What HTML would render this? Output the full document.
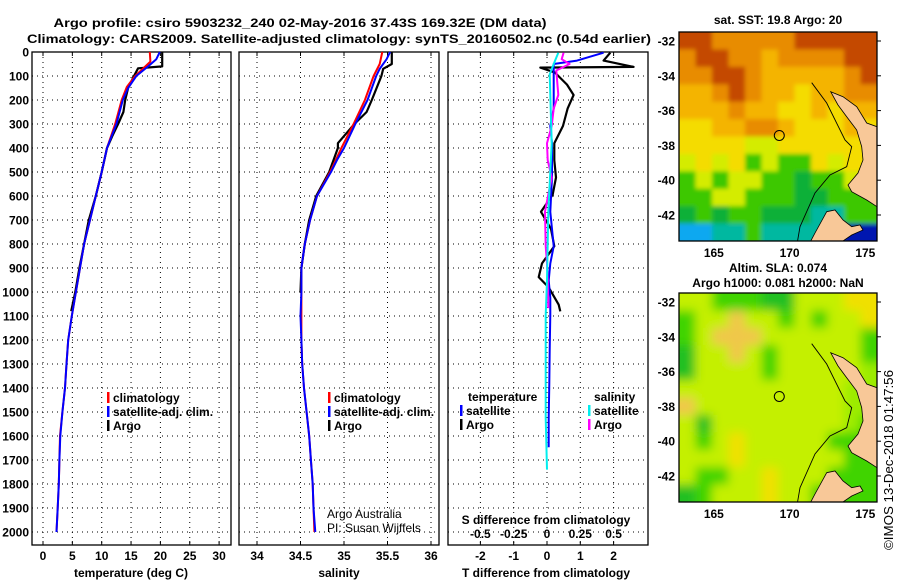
<!DOCTYPE html>
<html><head><meta charset="utf-8"><style>
html,body{margin:0;padding:0;background:#fff}
svg{display:block;font-family:"Liberation Sans",sans-serif}
.t{font-weight:bold;font-size:12px}
</style></head><body>
<svg id="s" width="900" height="580" viewBox="0 0 900 580">
<text x="300" y="27" text-anchor="middle" class="t" font-size="13" textLength="493" lengthAdjust="spacingAndGlyphs">Argo profile: csiro 5903232_240 02-May-2016 37.43S 169.32E (DM data)</text>
<text x="339" y="43" text-anchor="middle" class="t" font-size="13" textLength="624" lengthAdjust="spacingAndGlyphs">Climatology: CARS2009. Satellite-adjusted climatology: synTS_20160502.nc (0.54d earlier)</text>
<g id="g"></g>
</svg>
<script>
// ---------- data ----------
const depthTicks=[0,100,200,300,400,500,600,700,800,900,1000,1100,1200,1300,1400,1500,1600,1700,1800,1900,2000];
const tTicks=[0,5,10,15,20,25,30];
const sTicks=[34,34.5,35,35.5,36];
const dTTicks=[-2,-1,0,1,2];
const dSTicks=[-0.5,-0.25,0,0.25,0.5];
const tClimDepth=[0,40,100,145,200,300,400,500,600,700,800,900,1000,1100,1200,1300,1400,1500,1600,1700,1800,1900,2000];
const tClim=[18.2,18.3,15.7,14.3,13.4,12.3,10.9,10.0,9.0,8.0,7.0,6.3,5.6,4.9,4.3,4.0,3.75,3.3,2.9,2.8,2.7,2.5,2.3];
const tSatDepth=[0,30,60,100,150,200,300,400,500,600,700,800,900,1000,1100,1200,1300,1400,1500,1600,1700,1800,1900,2000];
const tSat=[19.9,19.3,17.9,15.9,14.5,13.6,12.5,10.9,10.0,9.0,8.0,7.0,6.3,5.6,4.9,4.3,4.0,3.75,3.3,2.95,2.8,2.7,2.5,2.3];
const tArgoDepth=[0,60,68,100,150,200,250,300,350,400,500,600,700,800,900,1000,1080];
const tArgo=[20.3,20.3,16.2,15.5,14.5,14.0,13.7,12.8,11.8,10.9,10.0,9.0,7.8,7.0,6.2,5.5,4.8];
const sClimDepth=[0,50,100,200,300,400,500,600,700,800,900,1000,1100,1200,1300,1400,1500,1600,1700,1800,1900,2000];
const sClim=[35.44,35.41,35.34,35.24,35.11,34.97,34.84,34.69,34.61,34.55,34.51,34.51,34.51,34.51,34.52,34.54,34.57,34.6,34.62,34.64,34.65,34.66];
const sSatDepth=[0,30,70,100,200,300,400,450,500,600,700,800,900,1000,1100,1200,1300,1400,1500,1600,1700,1800,1900,2000];
const sSat=[35.53,35.49,35.41,35.37,35.27,35.13,35.0,34.92,34.85,34.69,34.61,34.55,34.51,34.51,34.5,34.51,34.52,34.54,34.57,34.6,34.62,34.64,34.65,34.67];
const sArgoDepth=[0,50,70,100,200,250,300,380,400,500,600,700,800,900,1000];
const sArgo=[35.55,35.55,35.45,35.43,35.32,35.26,35.12,34.93,34.93,34.83,34.68,34.6,34.55,34.51,34.5];
const dTArgoDepth=[3,36,62,65,86,136,179,236,308,380,451,523,594,666,737,809,881,938,981,1053,1081];
const dTArgo=[1.9,1.7,2.6,-0.2,0.24,0.6,0.8,0.62,0.48,0.22,0.22,0.27,0.17,-0.18,0.12,0.22,-0.15,-0.25,0.05,0.35,0.4];
const dTSatDepth=[3,36,50,93,236,308,380,523,666,809,881,952,1024,1096,1239,1382,1525,1647];
const dTSat=[1.7,0.9,0.2,0.2,0.2,0.1,0.15,0.15,0.1,0.2,0.1,0.05,0.1,0.1,0.08,0.07,0.05,0.05];
const dSSatDepth=[3,50,93,380,666,952,1096,1239,1382,1525,1740];
const dSSat=[0.085,0.05,0.02,0.035,0.01,0.0,-0.01,-0.01,-0.01,-0.01,0.0];
const dSArgoDepth=[3,30,50,77,179,236,308,380,451,523,594,666,809,881,952,1067];
const dSArgo=[0.125,0.11,0.17,0.07,0.085,0.05,0.035,0.0,0.005,0.035,0.01,-0.015,-0.01,0.0,0.005,0.01];

// ---------- helpers ----------
const NS="http://www.w3.org/2000/svg";
const G=document.getElementById('g');
function mk(tag,attrs,parent){const e=document.createElementNS(NS,tag);for(const k in attrs)e.setAttribute(k,attrs[k]);(parent||G).appendChild(e);return e;}
const Y0=52,YB=545;
const yD=d=>Y0+d*0.24;
const xT=v=>43+v*5.87;
const xS=v=>257+(v-34)*87;
const xDT=v=>547+v*33.3;
const xDS=v=>547+v*133.2;

function panel(x0,x1,name){
  const r=mk('rect',{x:x0,y:Y0,width:x1-x0,height:YB-Y0,fill:'none',stroke:'#000','stroke-width':1.3});
  
  
  depthTicks.forEach(d=>{ if(d===0)return;
    const l=mk('line',{x1:x0,x2:x1,y1:yD(d),y2:yD(d),stroke:'#000','stroke-width':1,'stroke-dasharray':'1 4'});
    
    
  });
}
function vgrid(vals,fx,x0,x1,name){
  vals.forEach(v=>{const x=fx(v);
    const l=mk('line',{x1:x,x2:x,y1:Y0,y2:YB,stroke:'#000','stroke-width':1,'stroke-dasharray':'1 4'});
    
    
    mk('line',{x1:x,x2:x,y1:Y0,y2:Y0+4,stroke:'#000'});
    mk('line',{x1:x,x2:x,y1:YB,y2:YB-4,stroke:'#000'});
  });
}
function line(xs,ds,fx,col,name,w){
  const pts=xs.map((v,i)=>fx(v).toFixed(1)+','+yD(ds[i]).toFixed(1)).join(' ');
  const p=mk('polyline',{points:pts,fill:'none',stroke:col,'stroke-width':w||2,'stroke-linejoin':'round'});
  
  
}
function txt(x,y,s,attrs,name){
  const t=mk('text',Object.assign({x:x,y:y,'font-weight':'bold','font-size':12},attrs||{}));
  t.textContent=s;
  
  
  return t;
}

// panels
panel(32,231,'temperature-panel');
panel(239,439,'salinity-panel');
panel(448,648,'difference-panel');
vgrid(tTicks,xT,32,231,'temperature-gridline');
vgrid(sTicks,xS,239,439,'salinity-gridline');
vgrid(dTTicks,xDT,448,648,'t-diff-gridline');

depthTicks.forEach(d=>{txt(29,yD(d)+4.5,String(d),{'text-anchor':'end'},'depth-tick-label');});
tTicks.forEach(v=>{txt(xT(v),560,String(v),{'text-anchor':'middle'},'temperature-tick-label');});
sTicks.forEach(v=>{txt(xS(v),560,String(v),{'text-anchor':'middle'},'salinity-tick-label');});
dTTicks.forEach(v=>{txt(xDT(v),560,String(v),{'text-anchor':'middle'},'t-diff-tick-label');});
dSTicks.forEach(v=>{txt(xDS(v),538,String(v),{'text-anchor':'middle'},'s-diff-tick-label');});
txt(131,577,'temperature (deg C)',{'text-anchor':'middle'},'temperature-axis-title');
txt(339,577,'salinity',{'text-anchor':'middle'},'salinity-axis-title');
txt(546,577,'T difference from climatology',{'text-anchor':'middle'},'t-diff-axis-title');
txt(546,524,'S difference from climatology',{'text-anchor':'middle'},'s-diff-axis-title');

line(tArgo,tArgoDepth,xT,'#000','temperature-argo-line',2.2);
line(tClim,tClimDepth,xT,'#f00','temperature-climatology-line');
line(tSat,tSatDepth,xT,'#00f','temperature-satellite-line');
line(sArgo,sArgoDepth,xS,'#000','salinity-argo-line',2.2);
line(sClim,sClimDepth,xS,'#f00','salinity-climatology-line');
line(sSat,sSatDepth,xS,'#00f','salinity-satellite-line');
line(dTArgo,dTArgoDepth,xDT,'#000','t-diff-argo-line',2.2);
line(dTSat,dTSatDepth,xDT,'#00f','t-diff-satellite-line');
line(dSArgo,dSArgoDepth,xDS,'#f0f','s-diff-argo-line');
line(dSSat,dSSatDepth,xDS,'#0ee','s-diff-satellite-line');

function leg(x,y,col,s,name){mk('rect',{x:x-1,y:y-10,width:2.5,height:11,fill:col});txt(x+5,y,s,{},name);}
leg(108,402,'#f00','climatology','legend-climatology');
leg(108,416,'#00f','satellite-adj. clim.','legend-satellite');
leg(108,430,'#000','Argo','legend-argo');
leg(329,402,'#f00','climatology','legend-climatology-s');
leg(329,416,'#00f','satellite-adj. clim.','legend-satellite-s');
leg(329,430,'#000','Argo','legend-argo-s');
txt(468,401,'temperature',{},'legend-temperature-header');
leg(461,415,'#00f','satellite','legend-t-satellite');
leg(461,429,'#000','Argo','legend-t-argo');
txt(594,401,'salinity',{},'legend-salinity-header');
leg(589,415,'#0ee','satellite','legend-s-satellite');
leg(589,429,'#f0f','Argo','legend-s-argo');
txt(327,518,'Argo Australia',{'font-weight':'normal'},'credit-line-1');
txt(327,532,'PI: Susan Wijffels',{'font-weight':'normal'},'credit-line-2');

// ---------- maps ----------
const MX0=679,MX1=877,LON0=162.7,LON1=175.8,LAT0=-31.5;
const mlon=v=>MX0+(v-LON0)*15.15;
const latLabels=[-32,-34,-36,-38,-40,-42];
const lonLabels=[165,170,175];
const pal={D:'#c44a00',O:'#e88c00',o:'#f4b400',Y:'#f4dc00',y:'#d4ec00',G:'#3cc800',g:'#10b038',T:'#00b8a0',C:'#10a8f0',B:'#1048e0',N:'#0018b0',
 L:'#c4f000',l:'#9cec00',K:'#40d400',k:'#20c020',P:'#f0e000',Q:'#f0c848'};
const sstRows=["DDOOOOODDDDD","ODDOOoOOOODD","OODDOoooooOD","ooODOooYooOO","oooOooYYoYoo","YYooOOoYYYoY","YYYYyyYYYYYY","yYyYGyGGYyYY","GyGyyGGgGGyy","GGyyGGGggGGG","gGgGGgggTTGG","CCTTGTTTTBNN"];
const slaRows=["LLKKKkkLLLPP","KLLQLLKLKLLP","KLQQQLLLLLLK","kLLQLKLLLLLK","kLLLLKLLLLLl","LLLLLLLLLLll","QLLLLLLLLLll","LkLLLLLLLLlK","LKLPLLLLLKKK","LLLPLLLLLLKK","LKKLLPLLLKKK","kKLLLPLLKKKK"];
function map(top,rows,blur,name){
  const h=209,y=v=>top+9+(-32-v)*17.4;
  const gid='c'+top;
  const cp=mk('clipPath',{id:gid});mk('rect',{x:MX0,y:top,width:MX1-MX0,height:h},cp);
  const f=mk('filter',{id:'f'+top,x:'-10%',y:'-10%',width:'120%',height:'120%'});mk('feGaussianBlur',{stdDeviation:blur},f);
  const gg=mk('g',{'clip-path':'url(#'+gid+')'});
  
  
  const inner=mk('g',{filter:'url(#f'+top+')'},gg);
  const cw=(MX1-MX0)/12,ch=h/12;
  rows.forEach((r,i)=>{[...r].forEach((c,j)=>{
    const x0=MX0+j*cw-(j===0?12:0), y0=top+i*ch-(i===0?12:0);
    const w=cw+0.6+(j===0||j===11?12:0), hh=ch+0.6+(i===0||i===11?12:0);
    mk('rect',{x:x0,y:y0,width:w,height:hh,fill:pal[c]},inner);});});
  const dy=top-32;
  const land=[[830.7,91.7],[843,96.7],[856.7,106.7],[866.7,123],[877,126.7],[877,206.7],[866.7,200],[851.7,191.7],[848,185],[858,173],[863,160],[861.7,146.7],[856.7,130],[846.7,116.7],[838,105]];
  mk('polygon',{points:land.map(p=>p[0]+','+(p[1]+dy)).join(' '),fill:'#f8c898',stroke:'#000','stroke-width':0.8},gg);
  const si=[[826.7,211.7],[835,210],[843,220],[851.7,226.7],[860,225],[863,230],[851.7,235],[840,243],[806,250],[815,233]];
  mk('polygon',{points:si.map(p=>p[0]+','+(p[1]+dy)).join(' '),fill:'#f8c898',stroke:'#000','stroke-width':0.8},gg);
  const iso=[[811.7,82.7],[826.7,103],[845,140],[851.7,146.7],[846.7,166.7],[830,175],[815,193],[800,226.7],[796.7,246]];
  mk('polyline',{points:iso.map(p=>p[0]+','+(p[1]+dy)).join(' '),fill:'none',stroke:'#000','stroke-width':0.9},gg);
  mk('circle',{cx:mlon(169.32),cy:y(-37.43),r:5,fill:'none',stroke:'#000','stroke-width':1},gg);
  const fr=mk('rect',{x:MX0,y:top,width:MX1-MX0,height:h,fill:'none',stroke:'#000','stroke-width':1.3});
  
  
  latLabels.forEach(v=>{txt(675,y(v)+4.5,String(v),{'text-anchor':'end'},'map-lat-label');mk('line',{x1:MX1,x2:MX1+4,y1:y(v),y2:y(v),stroke:'#000'});});
  lonLabels.forEach(v=>{txt(mlon(v),top+h+16,String(v),{'text-anchor':'middle'},'map-lon-label');});
}
map(32,sstRows,2,'sst-map');
map(293,slaRows,5,'sla-map');
txt(778,24,'sat. SST: 19.8 Argo: 20',{'text-anchor':'middle'},'sst-map-title');
txt(778,272,'Altim. SLA: 0.074',{'text-anchor':'middle'},'sla-map-title');
txt(778,287,'Argo h1000: 0.081 h2000: NaN',{'text-anchor':'middle'},'sla-map-subtitle');
txt(0,0,'©IMOS 13-Dec-2018 01:47:56',{'font-weight':'normal','font-size':13,textLength:180,lengthAdjust:'spacingAndGlyphs',transform:'translate(893,550) rotate(-90)'},'copyright-stamp');
</script>
</body></html>
